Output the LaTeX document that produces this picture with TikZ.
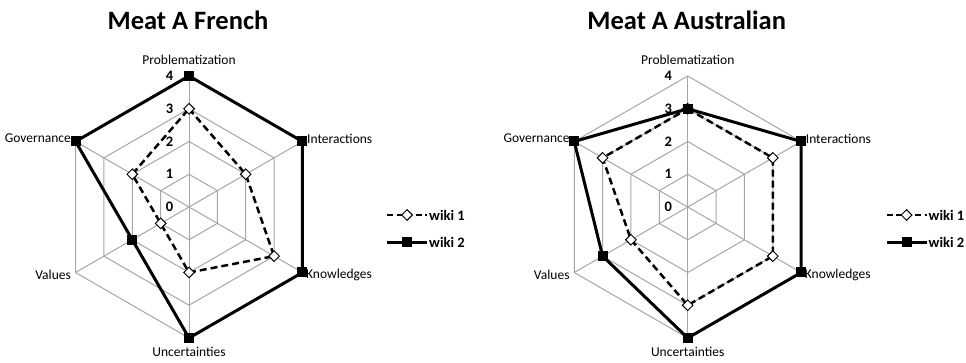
\documentclass[tikz,border=0pt]{standalone}
\usepackage{fontspec}
\setmainfont{Carlito}
\usetikzlibrary{shapes.geometric,calc}

% one radar chart: #1 name prefix, #2 centre x, #3 title,
% #4 wiki 1 scores, #5 wiki 2 scores (order: P, I, K, U, V, G)
\newcommand\radarchart[5]{%
  \begin{scope}[shift={(#2,-207)}]
    \node[charttitle] (#1title) at (-1,187) {#3};
    % grid rings and spokes
    \foreach \k in {1,...,4}
      \draw[gridline] (90:\k*\unitlen) -- (30:\k*\unitlen) -- (-30:\k*\unitlen)
        -- (-90:\k*\unitlen) -- (-150:\k*\unitlen) -- (150:\k*\unitlen) -- cycle;
    \foreach \a in {90,30,-30,-90,-150,150}
      \draw[gridline] (0,0) -- (\a:4*\unitlen);
    % scale numbers
    \foreach \k in {0,...,4}
      \node[ticklabel] (#1tick\k) at (-15.5,\k*\unitlen) {\k};
    % axis names
    \node[axislabel] (#1labP) at (0,147) {Problematization};
    \node[axislabel,anchor=west] (#1labI) at ($(30:4*\unitlen)+(4,3)$) {Interactions};
    \node[axislabel,anchor=west] (#1labK) at ($(-30:4*\unitlen)+(3,-2)$) {Knowledges};
    \node[axislabel] (#1labU) at (0,-145) {Uncertainties};
    \node[axislabel,anchor=east] (#1labV) at ($(-150:4*\unitlen)+(-4,-2)$) {Values};
    \node[axislabel,anchor=east] (#1labG) at ($(150:4*\unitlen)+(-4,3)$) {Governance};
    % data points
    \foreach \v [count=\i from 0] in {#4}
      \coordinate (#1a\i) at (90-60*\i:\v*\unitlen);
    \foreach \v [count=\i from 0] in {#5}
      \coordinate (#1b\i) at (90-60*\i:\v*\unitlen);
    % wiki 1
    \draw[seriesone] (#1a0) -- (#1a1) -- (#1a2) -- (#1a3) -- (#1a4) -- (#1a5) -- cycle;
    \foreach \i in {0,...,5}
      \node[diamondmark] (#1ma\i) at (#1a\i) {};
    % wiki 2
    \draw[seriestwo] (#1b0) -- (#1b1) -- (#1b2) -- (#1b3) -- (#1b4) -- (#1b5) -- cycle;
    \foreach \i in {0,...,5}
      \node[squaremark] (#1mb\i) at (#1b\i) {};
  \end{scope}}

% legend: #1 name prefix, #2 left x of the sample lines
\newcommand\chartlegend[2]{%
  \coordinate (#1la) at (#2,-215);
  \coordinate (#1lb) at (#2+40,-215);
  \coordinate (#1lc) at (#2,-242.5);
  \coordinate (#1ld) at (#2+40,-242.5);
  \draw[seriesone,dash pattern=on 6pt off 3.5pt] (#1la) -- (#1lb);
  \node[diamondmark] (#1lm1) at (#2+20,-215) {};
  \draw[seriestwo] (#1lc) -- (#1ld);
  \node[squaremark] (#1lm2) at (#2+20,-242.5) {};
  \node[legendtext] (#1lt1) at (#2+42,-215) {wiki 1};
  \node[legendtext] (#1lt2) at (#2+42,-242.5) {wiki 2};}

\newcommand\unitlen{32.75}

\begin{document}
\begin{tikzpicture}[x=1pt,y=1pt,
  gridline/.style={draw=black!35, line width=1pt},
  seriesone/.style={draw=black, line width=2.5pt, dash pattern=on 7pt off 4pt, line join=round},
  seriestwo/.style={draw=black, line width=3pt, line join=round},
  diamondmark/.style={draw=black, fill=white, line width=1pt, shape=diamond,
    inner sep=0pt, minimum width=11pt, minimum height=11pt},
  squaremark/.style={fill=black, shape=rectangle, inner sep=0pt, minimum size=10pt},
  axislabel/.style={font=\fontsize{13.5}{14}\selectfont, inner sep=0.5pt},
  ticklabel/.style={font=\bfseries\fontsize{14.5}{15}\selectfont, anchor=east, inner sep=0pt},
  charttitle/.style={font=\bfseries\fontsize{26.5}{28}\selectfont, inner sep=0pt},
  legendtext/.style={font=\bfseries\fontsize{14.5}{15}\selectfont, anchor=west, inner sep=0pt}]
  \useasboundingbox (0,0) rectangle (966,-363);
  \radarchart{fr}{189}{Meat A French}{3,2,3,2,1,2}{4,4,4,4,2,4}
  \radarchart{au}{687.7}{Meat A Australian}{3,3,3,3,2,3}{3,4,4,4,3,4}
  \chartlegend{frleg}{387}
  \chartlegend{auleg}{886.5}
\end{tikzpicture}
\end{document}
